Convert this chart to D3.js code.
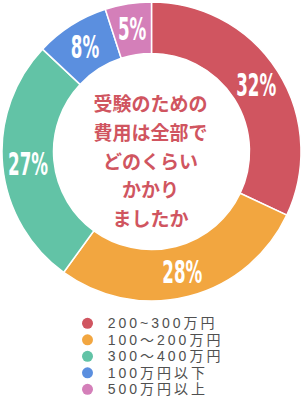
<!DOCTYPE html>
<html><head><meta charset="utf-8">
<script src="https://cdn.jsdelivr.net/npm/d3@7"></script>
<style>body{margin:0;background:#fff}svg{display:block}</style>
</head><body>
<svg id="c" width="303" height="400"></svg>
<script>
const categories = ["200~300万円","100〜200万円","300〜400万円","100万円以下","500万円以上"];
const values = [32, 28, 27, 8, 5];
const labels = ["32%","28%","27%","8%","5%"];
const colors = ["#d05560","#f2a640","#62c3a6","#5b8fdf","#d47fb9"];
const centerLines = ["受験のための","費用は全部で","どのくらい","かかり","ましたか"];

const svg = d3.select("#c");
const cx = 151.5, cy = 151.5, R = 149.5, r = 98;
const g = svg.append("g").attr("transform", `translate(${cx},${cy})`);
const pie = d3.pie().sort(null).value(d => d)(values);
const arc = d3.arc().innerRadius(r).outerRadius(R);
const labelArc = d3.arc().innerRadius(124).outerRadius(124);

g.selectAll("path").data(pie).join("path")
  .attr("d", arc).attr("fill", (d,i) => colors[i])
  .attr("stroke", "#fff").attr("stroke-width", 1.5);

g.selectAll("text.pct").data(pie).join("text").attr("class","pct")
  .attr("transform", d => { const [x,y] = labelArc.centroid(d); return `translate(${x},${y}) scale(0.62,1.05)`; })
  .attr("text-anchor","middle").attr("dy","0.36em")
  .attr("fill","#fff").attr("font-family","'Liberation Sans Narrow','DejaVu Sans Condensed',sans-serif")
  .attr("font-weight","bold").attr("font-size","30px")
  .text((d,i) => labels[i]);

const lineY = d3.scaleLinear().domain([0, centerLines.length-1]).range([104.5, 219]);
svg.selectAll("text.ctr").data(centerLines).join("text").attr("class","ctr")
  .attr("x", 150.5).attr("y", (d,i) => lineY(i)).attr("dy","0.36em")
  .attr("text-anchor","middle").attr("fill","#d05560")
  .attr("font-family","'Noto Sans CJK JP',sans-serif").attr("font-weight","bold")
  .attr("font-size","19px").text(d => d);

const ly = d3.scaleLinear().domain([0, categories.length-1]).range([323.3, 389.3]);
const leg = svg.selectAll("g.leg").data(categories).join("g").attr("class","leg")
  .attr("transform", (d,i) => `translate(0,${ly(i)})`);
leg.append("circle").attr("cx", 87.5).attr("cy", 0).attr("r", 5.5).attr("fill", (d,i) => colors[i]);
leg.append("text").attr("x", 107.7).attr("dy","0.36em")
  .attr("fill","#505050").attr("font-family","'Liberation Sans','Noto Sans CJK JP',sans-serif")
  .attr("font-size","14px").attr("letter-spacing","3px").text(d => d);
</script>
</body></html>
